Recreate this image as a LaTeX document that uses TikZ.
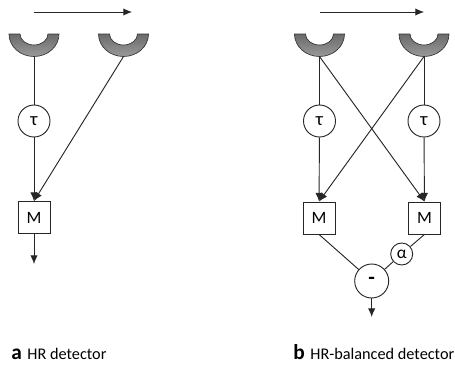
\documentclass[tikz,border=0pt]{standalone}
\usepackage{fontspec}
\setmainfont{Carlito}
\usetikzlibrary{arrows.meta}
\tikzset{
    wire/.style={draw=black!85, line width=0.7pt},
    flow/.style={wire, -{Latex[length=6.5pt,width=5.5pt]}},
    delaynode/.style={circle, draw=black!85, line width=0.7pt, minimum size=24pt, inner sep=0pt, font=\fontsize{14}{14}\selectfont},
    mixnode/.style={rectangle, draw=black!85, line width=0.65pt, minimum size=24pt, inner sep=0pt, font=\fontsize{13}{13}\selectfont},
    gainnode/.style={circle, draw=black!85, line width=0.7pt, minimum size=16.5pt, inner sep=0pt, font=\fontsize{13}{13}\selectfont},
    diffnode/.style={circle, draw=black!85, line width=0.7pt, minimum size=25.5pt, inner sep=0pt, font=\fontsize{16}{16}\selectfont\bfseries},
    capnode/.style={anchor=base west, inner sep=0pt, font=\fontsize{12.2}{13}\selectfont}
}
\newcommand{\capmark}[1]{{\fontsize{16}{16}\selectfont\bfseries #1}\hspace{1.5pt}}
\begin{document}
\begin{tikzpicture}[x=0.75pt,y=-0.75pt]
    \useasboundingbox (0,0) rectangle (455,365);
    % scan direction
    \coordinate (sa1) at (34,12);
    \coordinate (sa2) at (132,12);
    \coordinate (sb1) at (320,12);
    \coordinate (sb2) at (424,12);
    \draw[flow] (sa1) -- (sa2);
    \draw[flow] (sb1) -- (sb2);
    % detectors
    \foreach \n/\x in {da/34, db/123.5, dc/319.5, dd/424} {
        \draw[black!80, line width=0.5pt, top color=black!58, bottom color=black!40]
            (\x-25,34) arc[start angle=180, end angle=0, x radius=25, y radius=22.5]
            -- (\x+14,34) arc[start angle=0, end angle=180, x radius=14, y radius=11] -- cycle;
        \coordinate (\n) at (\x,56.5);
    }
    % a
    \node[delaynode] (ta) at (34,121) {τ};
    \node[mixnode] (ma) at (34,217.5) {M};
    \coordinate (oa) at (34,264);
    \draw[wire] (da) -- (ta);
    \draw[flow] (ta) -- (ma);
    \draw[flow] (db) -- (ma.north);
    \draw[flow] (ma) -- (oa);
    % b
    \node[delaynode] (tb) at (319.5,121) {τ};
    \node[delaynode] (tc) at (424,121) {τ};
    \node[mixnode] (mb) at (319,218) {M};
    \node[mixnode] (mc) at (424.5,218) {M};
    \node[gainnode] (g) at (401.7,254) {α};
    \node[diffnode] (s) at (371.7,281) {-};
    \coordinate (ob) at (371.7,317);
    \draw[wire] (dc) -- (tb);
    \draw[wire] (dd) -- (tc);
    \draw[flow] (tb) -- (mb);
    \draw[flow] (tc) -- (mc);
    \draw[flow] (dc) -- (mc.north);
    \draw[flow] (dd) -- (mb.north);
    \draw[wire] (mb.south) -- (s);
    \draw[wire] (mc.south) -- (g);
    \draw[wire] (g) -- (s);
    \draw[flow] (s) -- (ob);
    % captions
    \node[capnode] (la) at (11,359) {\capmark{a} HR detector};
    \node[capnode] (lb) at (293,359) {\capmark{b} HR-balanced detector};
\end{tikzpicture}
\end{document}
